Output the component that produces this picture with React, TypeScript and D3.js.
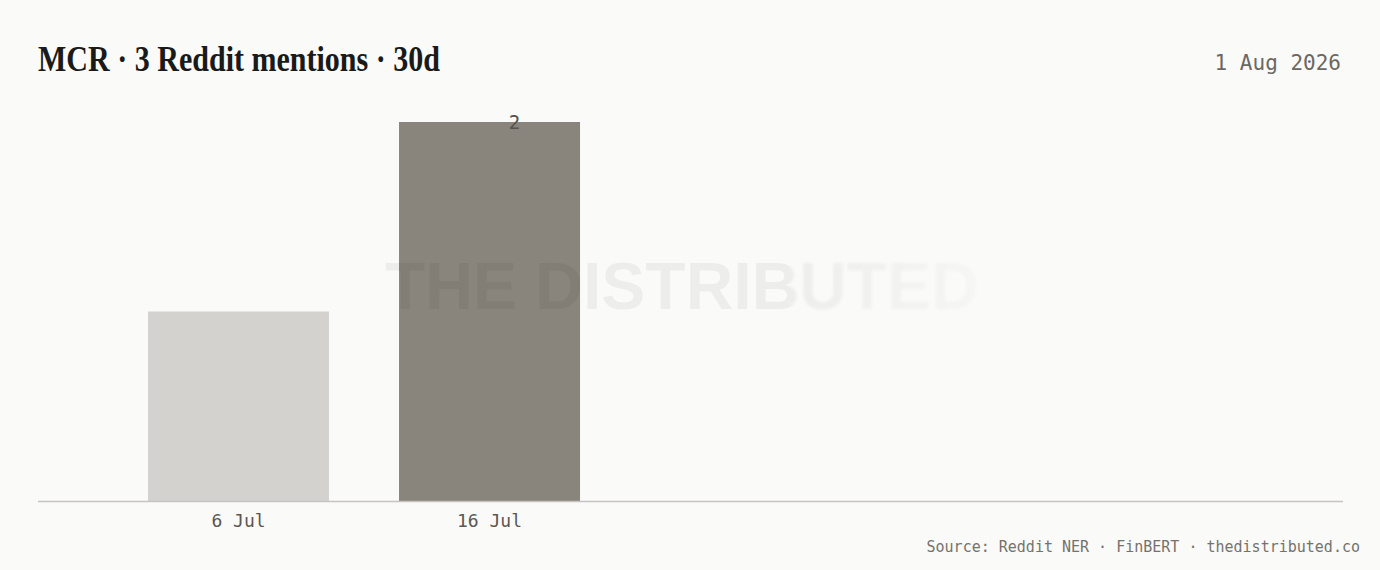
import React, { useEffect } from "react";
import * as d3 from "d3";

const categories = ["6 Jul", "16 Jul"];
const mentions = [1, 2];
const titleText = "MCR · 3 Reddit mentions · 30d";
const dateText = "1 Aug 2026";
const footerText = "Source: Reddit NER · FinBERT · thedistributed.co";
const watermarkText = "THE DISTRIBUTED";

const W = 1380;
const H = 570;
const MONO = "'DejaVu Sans Mono', 'Liberation Mono', monospace";

export default function App() {
  useEffect(() => {
    document.body.style.margin = "0";
    document.body.style.background = "#fafaf8";
  }, []);

  const x = d3
    .scaleBand<string>()
    .domain(categories)
    .range([38, 690])
    .paddingInner(0.279)
    .paddingOuter(0.438);
  const y = d3.scaleLinear().domain([0, 2]).range([501, 122]);
  const maxV = d3.max(mentions) as number;
  const bw = x.bandwidth();

  return (
    <svg width={W} height={H} style={{ display: "block" }}>
      <defs>
        <clipPath id="wmLeft">
          <rect x={0} y={0} width={790} height={H} />
        </clipPath>
        <clipPath id="wmRight">
          <rect x={790} y={0} width={W - 790} height={H} />
        </clipPath>
        <linearGradient id="wmFade" gradientUnits="userSpaceOnUse" x1={790} y1={0} x2={985} y2={0}>
          <stop offset="0" stopColor="#000" stopOpacity={0.05} />
          <stop offset="1" stopColor="#000" stopOpacity={0.015} />
        </linearGradient>
        <filter id="wmBlur" x="-10%" y="-30%" width="120%" height="160%">
          <feGaussianBlur stdDeviation="1.6" />
        </filter>
      </defs>
      <rect x={0} y={0} width={W} height={H} fill="#fafaf8" />

      <text
        x={38}
        y={71}
        fontFamily="'Liberation Serif', 'DejaVu Serif', serif"
        fontWeight={700}
        fontSize={35}
        textLength={402}
        lengthAdjust="spacingAndGlyphs"
        fill="#1a1a1a"
      >
        {titleText}
      </text>
      <text x={1341} y={70} textAnchor="end" fontFamily={MONO} fontSize={21} fill="#6b6863">
        {dateText}
      </text>

      {categories.map((c, i) => (
        <rect
          key={c}
          x={x(c)}
          y={y(mentions[i])}
          width={bw}
          height={y(0) - y(mentions[i])}
          fill={mentions[i] === maxV ? "#89847c" : "#d3d2ce"}
        />
      ))}

      <g>
        <text
          x={385}
          y={309}
          fontFamily="'Liberation Sans', Arial, sans-serif"
          fontWeight={700}
          fontSize={66}
          fill="#000"
          fillOpacity={0.05}
          clipPath="url(#wmLeft)"
        >
          {watermarkText}
        </text>
        <g clipPath="url(#wmRight)">
          <text
            x={385}
            y={309}
            fontFamily="'Liberation Sans', Arial, sans-serif"
            fontWeight={700}
            fontSize={66}
            fill="url(#wmFade)"
            filter="url(#wmBlur)"
          >
            {watermarkText}
          </text>
        </g>
      </g>

      {categories.map((c, i) =>
        mentions[i] === maxV ? (
          <text
            key={"v" + c}
            x={(x(c) as number) + bw / 2 + 25}
            y={y(mentions[i]) + 7}
            textAnchor="middle"
            fontFamily={MONO}
            fontSize={19}
            fill="#55524d"
          >
            {mentions[i]}
          </text>
        ) : null
      )}

      <line x1={38} x2={1343} y1={501.5} y2={501.5} stroke="#c6c4c0" strokeWidth={1.5} />

      {categories.map((c) => (
        <text
          key={"t" + c}
          x={(x(c) as number) + bw / 2}
          y={527}
          textAnchor="middle"
          fontFamily={MONO}
          fontSize={18}
          fill="#5a5752"
        >
          {c}
        </text>
      ))}

      <text x={1360} y={552} textAnchor="end" fontFamily={MONO} fontSize={15} fill="#75726d">
        {footerText}
      </text>
    </svg>
  );
}
